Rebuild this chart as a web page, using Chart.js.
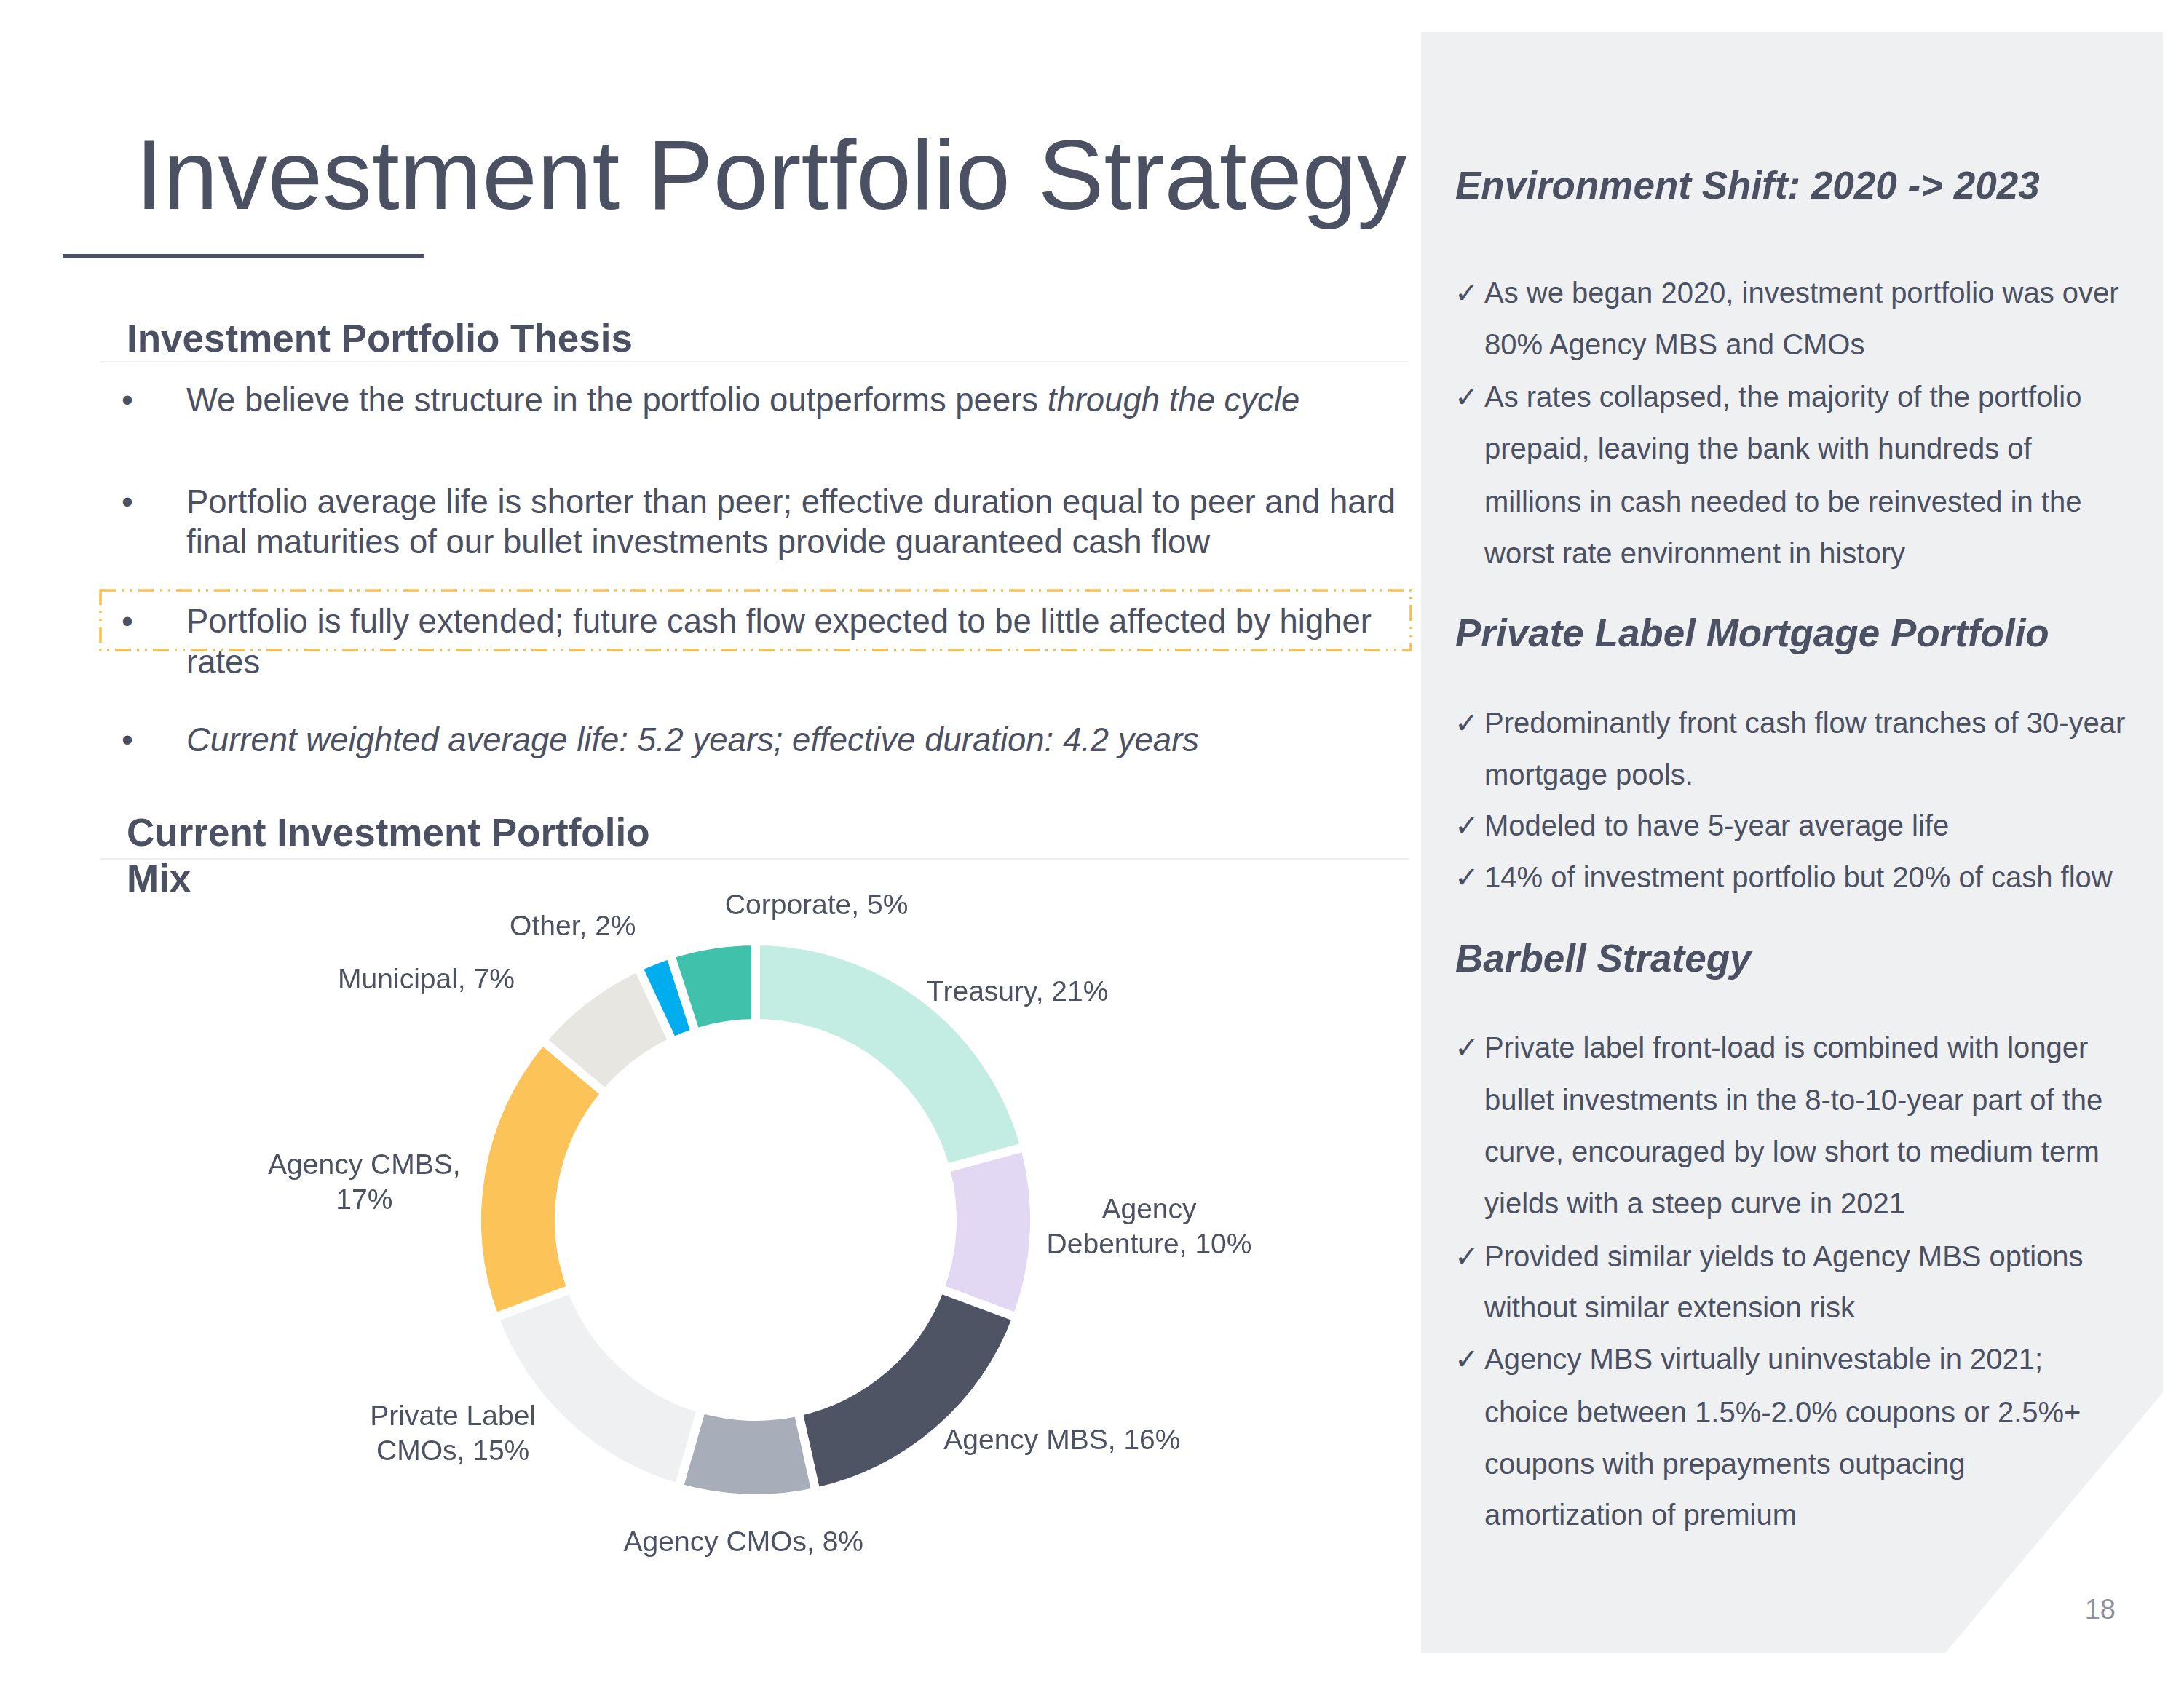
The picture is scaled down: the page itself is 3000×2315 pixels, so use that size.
<!DOCTYPE html>
<html>
<head>
<meta charset="utf-8">
<script src="https://cdn.jsdelivr.net/npm/chart.js@4.4.1/dist/chart.umd.min.js"></script>
<style>
  html, body { margin: 0; padding: 0; background: #ffffff; }
  body { width: 3000px; height: 2315px; position: relative; overflow: hidden; font-family: "Liberation Sans", Arial, sans-serif; }
  #slide { position: absolute; left: 0; top: 0; }
  #mixChart { position: absolute; left: 340px; top: 1200px; }
  text { fill: #4B5162; }
</style>
</head>
<body>
<svg id="slide" width="3000" height="2315" xmlns="http://www.w3.org/2000/svg">
  <polygon points="1952,44 2971,44 2971,1913 2672,2271 1952,2271" fill="#EFF0F2"/>

  <text x="186" y="287" font-size="136">Investment Portfolio Strategy</text>
  <line x1="86" y1="352" x2="583" y2="352" stroke="#4B5162" stroke-width="6"/>

  <text x="174" y="483" font-size="53" font-weight="bold">Investment Portfolio Thesis</text>
  <line x1="138" y1="497" x2="1936" y2="497" stroke="#EEEFF1" stroke-width="2"/>

  <g font-size="45.5">
    <text x="167" y="565">•</text>
    <text x="256" y="565">We believe the structure in the portfolio outperforms peers <tspan font-style="italic">through the cycle</tspan></text>
    <text x="167" y="705">•</text>
    <text x="256" y="705">Portfolio average life is shorter than peer; effective duration equal to peer and hard</text>
    <text x="256" y="760">final maturities of our bullet investments provide guaranteed cash flow</text>
    <text x="167" y="869">•</text>
    <text x="256" y="869">Portfolio is fully extended; future cash flow expected to be little affected by higher</text>
    <text x="256" y="925">rates</text>
    <text x="167" y="1032">•</text>
    <text x="256" y="1032" font-style="italic">Current weighted average life: 5.2 years; effective duration: 4.2 years</text>
  </g>
  <rect x="138" y="811" width="1800" height="82" fill="none" stroke="#F6BF4F" stroke-width="3.5" stroke-dasharray="22 8 3 8 3 8"/>

  <text x="174" y="1162" font-size="53" font-weight="bold">Current Investment Portfolio</text>
  <text x="174" y="1225" font-size="53" font-weight="bold">Mix</text>
  <line x1="138" y1="1180" x2="1936" y2="1180" stroke="#EEEFF1" stroke-width="2"/>

  <g font-size="53" font-weight="bold" font-style="italic">
    <text x="1999" y="273">Environment Shift: 2020 -&gt; 2023</text>
    <text x="1999" y="888">Private Label Mortgage Portfolio</text>
    <text x="1999" y="1335">Barbell Strategy</text>
  </g>
  <g font-size="40">
    <text x="1998" y="416" font-family="DejaVu Sans" font-size="40">✓</text>
    <text x="2039" y="416">As we began 2020, investment portfolio was over</text>
    <text x="2039" y="487">80% Agency MBS and CMOs</text>
    <text x="1998" y="559" font-family="DejaVu Sans" font-size="40">✓</text>
    <text x="2039" y="559">As rates collapsed, the majority of the portfolio</text>
    <text x="2039" y="630">prepaid, leaving the bank with hundreds of</text>
    <text x="2039" y="703">millions in cash needed to be reinvested in the</text>
    <text x="2039" y="774">worst rate environment in history</text>

    <text x="1998" y="1007" font-family="DejaVu Sans" font-size="40">✓</text>
    <text x="2039" y="1007">Predominantly front cash flow tranches of 30-year</text>
    <text x="2039" y="1078">mortgage pools.</text>
    <text x="1998" y="1148" font-family="DejaVu Sans" font-size="40">✓</text>
    <text x="2039" y="1148">Modeled to have 5-year average life</text>
    <text x="1998" y="1219" font-family="DejaVu Sans" font-size="40">✓</text>
    <text x="2039" y="1219">14% of investment portfolio but 20% of cash flow</text>

    <text x="1998" y="1453" font-family="DejaVu Sans" font-size="40">✓</text>
    <text x="2039" y="1453">Private label front-load is combined with longer</text>
    <text x="2039" y="1525">bullet investments in the 8-to-10-year part of the</text>
    <text x="2039" y="1596">curve, encouraged by low short to medium term</text>
    <text x="2039" y="1667">yields with a steep curve in 2021</text>
    <text x="1998" y="1740" font-family="DejaVu Sans" font-size="40">✓</text>
    <text x="2039" y="1740">Provided similar yields to Agency MBS options</text>
    <text x="2039" y="1810">without similar extension risk</text>
    <text x="1998" y="1881" font-family="DejaVu Sans" font-size="40">✓</text>
    <text x="2039" y="1881">Agency MBS virtually uninvestable in 2021;</text>
    <text x="2039" y="1954">choice between 1.5%-2.0% coupons or 2.5%+</text>
    <text x="2039" y="2025">coupons with prepayments outpacing</text>
    <text x="2039" y="2095">amortization of premium</text>
  </g>
  <text x="2906" y="2224" font-size="38" text-anchor="end" style="fill:#8E929C">18</text>
</svg>

<canvas id="mixChart" width="1460" height="1000"></canvas>

<script>
// portfolio mix, clockwise from 12 o'clock
const categories = ['Treasury', 'Agency Debenture', 'Agency MBS', 'Agency CMOs', 'Private Label CMOs', 'Agency CMBS', 'Municipal', 'Other', 'Corporate'];
const shares = [21, 10, 16, 8, 15, 17, 7, 2, 5];
const labelLines = [
    ['Treasury, 21%'],
    ['Agency', 'Debenture, 10%'],
    ['Agency MBS, 16%'],
    ['Agency CMOs, 8%'],
    ['Private Label', 'CMOs, 15%'],
    ['Agency CMBS,', '17%'],
    ['Municipal, 7%'],
    ['Other, 2%'],
    ['Corporate, 5%']
];
const sliceColors = ['#C3EDE3', '#E3D8F4', '#4F5465', '#A8ADBA', '#EFF0F1', '#FCC358', '#E8E6E0', '#00AEEF', '#40C1AC'];

// where each label sits relative to the visible outer edge of its slice
const labelAlign = ['left', 'left', 'left', 'center', 'right', 'right', 'right', 'right', 'center'];
const labelNudge = [[6, -12], [23, -6], [11, 20], [-5, 67], [-46, 19], [-34, 14], [-102, -29], [-27, -51], [142, -58]];
const sliceGap = 12;

const sliceLabels = {
    id: 'sliceLabels',
    afterDatasetsDraw(chart) {
        const ctx = chart.ctx;
        const meta = chart.getDatasetMeta(0);
        ctx.save();
        ctx.font = '39px "Liberation Sans", Arial, sans-serif';
        ctx.fillStyle = '#4D5263';
        ctx.textBaseline = 'middle';
        ctx.textAlign = 'center';
        meta.data.forEach(function (arc, i) {
            const p = arc.getProps(['x', 'y', 'startAngle', 'endAngle', 'outerRadius'], true);
            const mid = (p.startAngle + p.endAngle) / 2;
            const r = p.outerRadius - sliceGap / 2;
            const ax = p.x + Math.cos(mid) * r + labelNudge[i][0];
            const ay = p.y + Math.sin(mid) * r + labelNudge[i][1];
            const lines = labelLines[i];
            const w = Math.max.apply(null, lines.map(function (l) { return ctx.measureText(l).width; }));
            let cx = ax;
            if (labelAlign[i] === 'left') cx = ax + w / 2;
            if (labelAlign[i] === 'right') cx = ax - w / 2;
            lines.forEach(function (l, k) {
                ctx.fillText(l, cx, ay + (k - (lines.length - 1) / 2) * 48);
            });
        });
        ctx.restore();
    }
};

document.addEventListener('DOMContentLoaded', function () {
    const ctxMix = document.getElementById('mixChart').getContext('2d');
    const mixChart = new Chart(ctxMix, {
        type: 'doughnut',
        data: {
            labels: categories,
            datasets: [{
                data: shares,
                backgroundColor: sliceColors,
                borderColor: '#ffffff',
                borderWidth: sliceGap
            }]
        },
        options: {
            responsive: false,
            animation: false,
            events: [],
            radius: 383,
            cutout: '70.5%',
            layout: { padding: { left: 0, right: 64, top: 0, bottom: 48 } },
            plugins: {
                legend: { display: false },
                tooltip: { enabled: false }
            }
        },
        plugins: [sliceLabels]
    });
});
</script>
</body>
</html>
